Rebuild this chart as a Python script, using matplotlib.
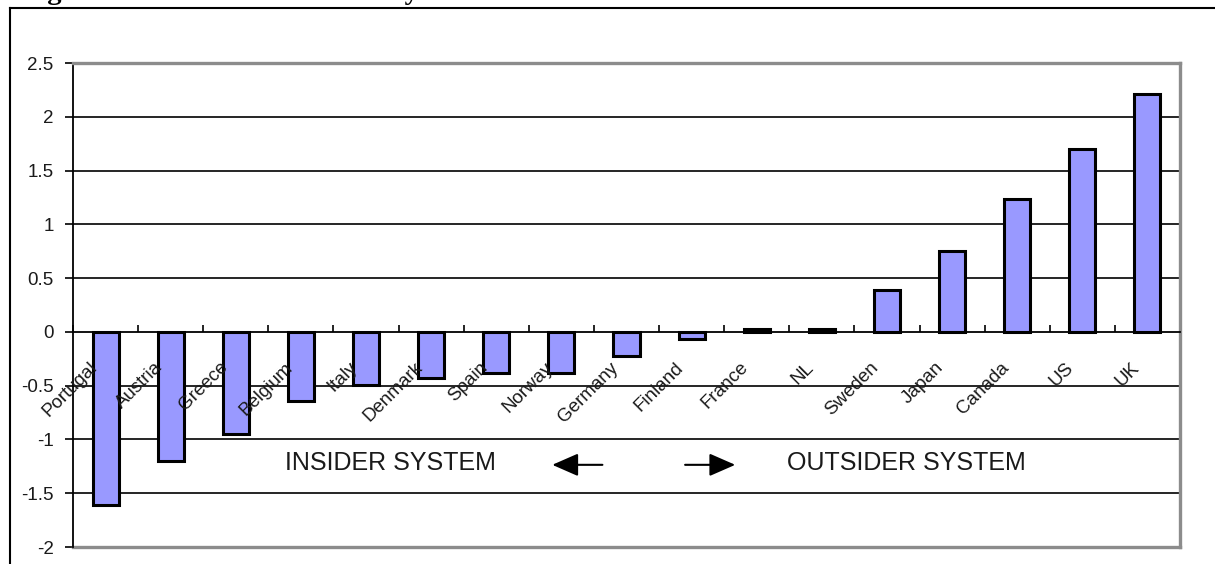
import matplotlib
matplotlib.use("Agg")
import matplotlib.pyplot as plt
import matplotlib.transforms as mtransforms
from matplotlib.lines import Line2D
import numpy as np

plt.rcParams['font.family'] = ['Liberation Sans', 'DejaVu Sans']

# shareholder-system index per country
countries = ["Portugal", "Austria", "Greece", "Belgium", "Italy", "Denmark", "Spain",
             "Norway", "Germany", "Finland", "France", "NL", "Sweden", "Japan",
             "Canada", "US", "UK"]
scores = [-1.61, -1.20, -0.95, -0.64, -0.49, -0.43, -0.38, -0.38, -0.22, -0.07,
          0.03, 0.03, 0.39, 0.75, 1.24, 1.70, 2.21]
y_ticks = [-2, -1.5, -1, -0.5, 0, 0.5, 1, 1.5, 2, 2.5]
y_labels = ["-2", "-1.5", "-1", "-0.5", "0", "0.5", "1", "1.5", "2", "2.5"]

fig = plt.figure(figsize=(12.15, 5.64), dpi=100)
ax = fig.add_axes([73 / 1215, 1 - 547 / 564, 1107 / 1215, 484 / 564])

x = np.arange(len(countries))
ax.bar(x, scores, width=0.4, color="#9999ff", edgecolor="black", linewidth=2.2, zorder=3)

ax.set_xlim(-0.5, len(countries) - 0.5)
ax.set_ylim(-2, 2.5)

# horizontal grid
for v in y_ticks[1:-1]:
    if v != 0:
        ax.axhline(v, color="black", lw=1.2, zorder=1)

# frame: gray top/right/bottom, black left, category axis at zero
for side in ("top", "right"):
    ax.spines[side].set_color("#8c8c8c")
    ax.spines[side].set_linewidth(2.4)
ax.spines["left"].set_color("black")
ax.spines["left"].set_linewidth(1.3)
ax.spines["bottom"].set_position(("data", 0))
ax.spines["bottom"].set_color("black")
ax.spines["bottom"].set_linewidth(1.3)
ax.spines["bottom"].set_zorder(4)
ax.axhline(-2, color="#8c8c8c", lw=2.4, clip_on=False, zorder=2)

ax.set_yticks(y_ticks)
ax.set_yticklabels(y_labels)
ax.tick_params(axis="y", direction="out", length=6, width=1.2, pad=8,
               labelsize=13.5, labelcolor="#1a1a1a")

ax.set_xticks(np.arange(len(countries) + 1) - 0.5)
ax.set_xticklabels([])
ax.tick_params(axis="x", direction="in", length=5, width=1.2)

# slanted category names hanging below the zero line
lab_tr = mtransforms.offset_copy(ax.transData, fig=fig, x=-17, y=-27, units="dots")
for i, name in enumerate(countries):
    ax.text(i, 0, name, transform=lab_tr, rotation=45, rotation_mode="anchor",
            ha="right", va="top", fontsize=13.5, color="#1a1a1a")

# insider / outsider annotation
ax.text(2.757, -1.22, "INSIDER SYSTEM", ha="left", va="center", fontsize=18, color="#1a1a1a")
ax.text(10.47, -1.22, "OUTSIDER SYSTEM", ha="left", va="center", fontsize=18, color="#1a1a1a")
arrow_kw = dict(arrowstyle="-|>,head_length=0.8,head_width=0.35", lw=1.5, color="black",
                mutation_scale=20, shrinkA=0, shrinkB=0)
ax.annotate("", xy=(6.86, -1.236), xytext=(7.63, -1.236), arrowprops=arrow_kw)
ax.annotate("", xy=(9.67, -1.236), xytext=(8.90, -1.236), arrowprops=arrow_kw)

# outer chart border (left and top edges) and caption above it
fig.add_artist(Line2D([10 / 1215, 10 / 1215], [0, 1 - 8 / 564], color="black", lw=1.5))
fig.add_artist(Line2D([10 / 1215, 1], [1 - 8 / 564, 1 - 8 / 564], color="black", lw=1.5))
fig.text(22 / 1215, 1 + 1 / 564, "Figure 1: Insider and outsider system", ha="left",
         va="baseline", fontsize=20.5, fontweight="bold", family=["Liberation Serif"])

fig.savefig("out.png", dpi=100)
